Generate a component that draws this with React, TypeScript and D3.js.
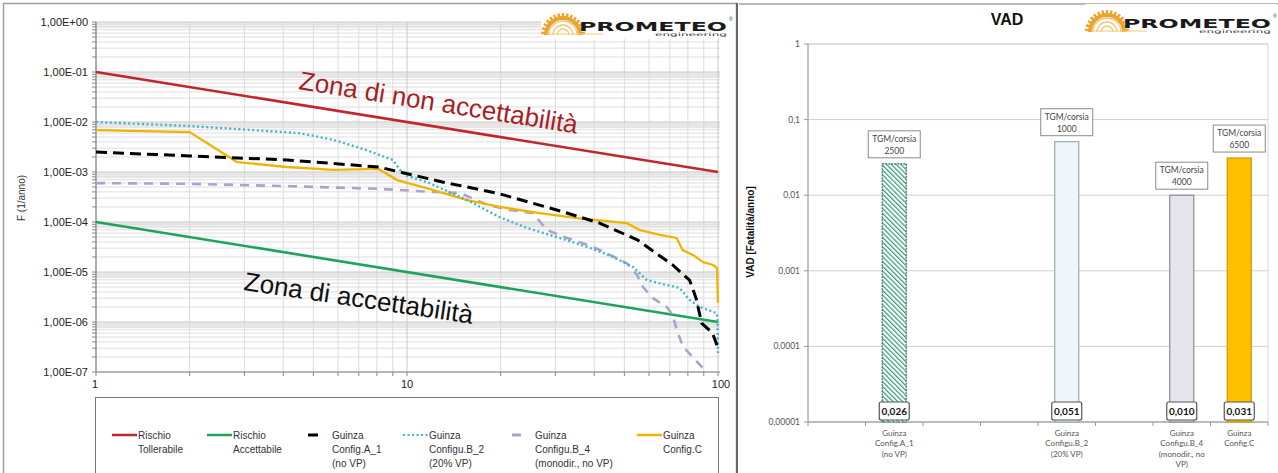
import * as d3 from "d3";

// ---- left chart: F-N curves ----
const yTicksL = [1, 1e-1, 1e-2, 1e-3, 1e-4, 1e-5, 1e-6, 1e-7];
const yTickLabelsL = ["1,00E+00", "1,00E-01", "1,00E-02", "1,00E-03", "1,00E-04", "1,00E-05", "1,00E-06", "1,00E-07"];
const xTicksL = [1, 10, 100];
const xTickLabelsL = ["1", "10", "100"];

const rischioTollerabile: [number, number][] = [[1, 0.1], [100, 0.001]];
const rischioAccettabile: [number, number][] = [[1, 1e-4], [100, 1e-6]];

const configA1: [number, number][] = [
  [1, 2.5e-3], [2, 2.1e-3], [4.1, 1.74e-3], [8.1, 1.26e-3], [9.5, 1.0e-3], [13, 6.3e-4],
  [19.4, 3.8e-4], [30.3, 1.74e-4], [41.6, 9.5e-5], [55, 4.4e-5], [71.5, 1.38e-5], [81, 6.9e-6],
  [85, 3.0e-6], [88.6, 9.5e-7], [96, 6.0e-7], [99.5, 3.3e-7],
];
const configB2: [number, number][] = [
  [1, 1e-2], [2, 8.3e-3], [4.5, 6.0e-3], [5.8, 4.4e-3], [7.4, 2.75e-3], [9, 1.74e-3], [9.5, 1.1e-3],
  [9.85, 8.7e-4], [11.8, 6.0e-4], [15.6, 2.75e-4], [19.8, 1.26e-4], [24.3, 7.6e-5], [30.3, 5.0e-5],
  [37.9, 3.2e-5], [46, 2.0e-5], [53.3, 1.26e-5], [59.1, 6.9e-6], [68.4, 5.5e-6], [75.2, 4.8e-6],
  [81.1, 2.75e-6], [87.4, 2.0e-6], [99, 1.5e-6], [99.6, 1.2e-6], [100, 2.4e-7],
];
const configB4: [number, number][] = [
  [1, 6.0e-4], [2, 5.8e-4], [4.2, 5.2e-4], [8.1, 4.6e-4], [12.1, 4.0e-4], [14.8, 3.8e-4],
  [18.1, 2.2e-4], [21.4, 1.74e-4], [25.4, 1.5e-4], [28.2, 6.9e-5], [32.7, 4.8e-5], [39.6, 3.2e-5],
  [44.9, 2.2e-5], [50.9, 1.5e-5], [54.9, 8.7e-6], [57.4, 5.0e-6], [61.8, 3.0e-6], [68.4, 2.0e-6],
  [71.5, 1.38e-6], [73.7, 6.9e-7], [77.2, 3.2e-7], [82.9, 2.0e-7], [89.4, 1.2e-7],
];
const configC: [number, number][] = [
  [1, 6.9e-3], [2, 6.3e-3], [2.84, 1.58e-3], [4.1, 1.26e-3], [5.8, 1.1e-3], [8.1, 1.15e-3],
  [9.3, 6.9e-4], [12.1, 4.4e-4], [15.6, 2.75e-4], [19.9, 2.0e-4], [26.7, 1.5e-4], [35.2, 1.2e-4],
  [50.9, 9.5e-5], [56.1, 6.9e-5], [65.1, 5.5e-5], [73.6, 4.8e-5], [77, 2.75e-5], [83, 2.2e-5],
  [89.5, 1.58e-5], [96.4, 1.38e-5], [99.3, 1.2e-5], [100, 2.4e-6],
];

// ---- right chart: VAD bars (Excel keeps empty category slots) ----
const vadCategories = [
  [], ["Guinza", "Config.A_1", "(no VP)"], [], [], ["Guinza", "Configu.B_2", "(20% VP)"], [],
  ["Guinza", "Configu.B_4", "(monodir., no", "VP)"], ["Guinza", "Config.C"],
];
const vadValues = [null, 0.026, null, null, 0.051, null, 0.010, 0.031];
const tgmCorsia = [null, 2500, null, null, 1000, null, 4000, 6500];
const yTicksR = [1, 0.1, 0.01, 0.001, 0.0001, 0.00001];
const yTickLabelsR = ["1", "0,1", "0,01", "0,001", "0,0001", "0,00001"];

const barFill = ["", "url(#hatch)", "", "", "#eef6f9", "", "#e6e4ec", "#ffc000"];
const barStroke = ["", "#3d6b5a", "", "", "#9aa", "", "#8a8a90", "#c89400"];

const W = 1278, H = 473;
const fontL = "'Liberation Sans', Arial, sans-serif";
const fontR = "Lato, 'Open Sans', sans-serif";

function Logo({ x, y }: { x: number; y: number }) {
  const cx = x + 20, cy = y + 26, r = 19;
  const ring = d3.arc()({ innerRadius: r - 4, outerRadius: r, startAngle: -Math.PI / 2, endAngle: Math.PI / 2 }) as string;
  const teeth = d3.range(-84, 90, 12);
  return (
    <g>
      <rect x={x - 2} y={y - 2} width={192} height={32} fill="#fff" />
      <path d={ring} transform={`translate(${cx},${cy})`} fill="#e8a530" />
      {teeth.map((a) => {
        const t = (a * Math.PI) / 180;
        return (
          <line key={a} x1={cx + Math.sin(t) * (r - 1)} y1={cy - Math.cos(t) * (r - 1)}
            x2={cx + Math.sin(t) * (r + 3)} y2={cy - Math.cos(t) * (r + 3)} stroke="#e8a530" strokeWidth={2.5} />
        );
      })}
      {[6, 10, 14].map((rr) => (
        <path key={rr} d={`M${cx - rr},${cy} A${rr},${rr} 0 0 1 ${cx + rr},${cy}`} fill="none" stroke="#f2c879" strokeWidth={1.3} />
      ))}
      <line x1={cx - 16} y1={cy - 1} x2={cx + 40} y2={cy - 1} stroke="#f2c879" strokeWidth={1} />
      <text x={x + 36} y={y + 22} fontFamily="'DejaVu Sans', sans-serif" fontWeight="bold" fontSize={13}
        textLength={148} lengthAdjust="spacingAndGlyphs" fill="#1a1a1a">PROMETEO</text>
      <text x={x + 112} y={y + 27} fontFamily="'DejaVu Sans', sans-serif" fontSize={4.5}
        textLength={72} lengthAdjust="spacingAndGlyphs" fill="#333">engineering</text>
      <text x={x + 186} y={y + 12} fontSize={5} fontFamily="sans-serif" fill="#333">®</text>
    </g>
  );
}

function LeftChart() {
  const xL = d3.scaleLog().domain([1, 100]).range([96, 718]);
  const yL = d3.scaleLog().domain([1e-7, 1]).range([372, 22]);
  const line = d3.line<[number, number]>().x((d) => xL(d[0])).y((d) => yL(d[1]));

  const minorY: number[] = [];
  yTicksL.slice(1).forEach((v) => d3.range(2, 10).forEach((k) => minorY.push(v * k)));
  const minorX: number[] = [];
  [1, 10].forEach((v) => d3.range(2, 10).forEach((k) => minorX.push(v * k)));

  const legend = [
    { lines: ["Rischio", "Tollerabile"], x: 112, w: 25, color: "#c0272d", dash: "", sw: 2.5 },
    { lines: ["Rischio", "Accettabile"], x: 207, w: 25, color: "#1ea35c", dash: "", sw: 2.5 },
    { lines: ["Guinza", "Config.A_1", "(no VP)"], x: 308, w: 10, color: "#000", dash: "", sw: 3 },
    { lines: ["Guinza", "Configu.B_2", "(20% VP)"], x: 403, w: 25, color: "#3fb6cc", dash: "2,2.5", sw: 2.2 },
    { lines: ["Guinza", "Configu.B_4", "(monodir., no VP)"], x: 512, w: 9, color: "#aaa4c8", dash: "", sw: 3 },
    { lines: ["Guinza", "Config.C"], x: 637, w: 25, color: "#f0b400", dash: "", sw: 2.5 },
  ];

  return (
    <g fontFamily={fontL}>
      <rect x={3.5} y={3.5} width={733} height={480} fill="#fff" stroke="#a0a0a0" strokeWidth={1.5} />
      <line x1={737} y1={3} x2={737} y2={H} stroke="#666" strokeWidth={2} />
      {/* gray bands near each decade line */}
      {yTicksL.slice(1).map((v) => (
        <rect key={"b" + v} x={96} y={yL(v * 10)} width={624} height={yL(v * 7.5) - yL(v * 10)} fill="#ececec" />
      ))}
      {minorY.map((v) => (
        <line key={"my" + v} x1={96} x2={720} y1={yL(v)} y2={yL(v)} stroke="#dedede" strokeWidth={1} />
      ))}
      {minorX.map((v) => (
        <line key={"mx" + v} x1={xL(v)} x2={xL(v)} y1={22} y2={372} stroke="#dcdcdc" strokeWidth={1} />
      ))}
      {yTicksL.map((v) => (
        <line key={"gy" + v} x1={96} x2={720} y1={yL(v)} y2={yL(v)} stroke="#c8c8c8" strokeWidth={1} />
      ))}
      {xTicksL.map((v) => (
        <line key={"gx" + v} x1={xL(v)} x2={xL(v)} y1={22} y2={372} stroke="#c8c8c8" strokeWidth={1} />
      ))}
      {/* axes */}
      <line x1={96} x2={96} y1={22} y2={372} stroke="#888" strokeWidth={1.2} />
      <line x1={96} x2={720} y1={372} y2={372} stroke="#888" strokeWidth={1.2} />
      {minorY.concat(yTicksL).map((v) => (
        <line key={"ty" + v} x1={92} x2={96} y1={yL(v)} y2={yL(v)} stroke="#888" />
      ))}
      {minorX.concat(xTicksL).map((v) => (
        <line key={"tx" + v} x1={xL(v)} x2={xL(v)} y1={372} y2={376} stroke="#888" />
      ))}
      {yTicksL.map((v, i) => (
        <text key={"ly" + v} x={88} y={yL(v) + 4} textAnchor="end" fontSize={11} fill="#222">{yTickLabelsL[i]}</text>
      ))}
      {xTicksL.map((v, i) => (
        <text key={"lx" + v} x={xL(v) + (i === 0 ? -1 : i === 2 ? 3 : 0)} y={388} textAnchor="middle" fontSize={11} fill="#222">{xTickLabelsL[i]}</text>
      ))}
      <text transform="translate(25,198) rotate(-90)" textAnchor="middle" fontSize={10} fill="#333">F (1/anno)</text>

      <Logo x={543} y={9} />

      {/* series */}
      <path d={line(rischioTollerabile)!} fill="none" stroke="#c0272d" strokeWidth={2.6} />
      <path d={line(rischioAccettabile)!} fill="none" stroke="#1ea35c" strokeWidth={2.6} />
      <path d={line(configB4)!} fill="none" stroke="#aaa4c8" strokeWidth={2.6} strokeDasharray="9,7" />
      <path d={line(configC)!} fill="none" stroke="#f0b400" strokeWidth={2.3} />
      <path d={line(configB2)!} fill="none" stroke="#3fb6cc" strokeWidth={2.4} strokeDasharray="2,2.6" />
      <path d={line(configA1)!} fill="none" stroke="#000" strokeWidth={3} strokeDasharray="11,6" />

      <text transform="translate(298,89) rotate(9.1)" fontSize={26} fill="#a81d26">Zona di non accettabilità</text>
      <text transform="translate(243,290) rotate(8.4)" fontSize={26} fill="#111">Zona di accettabilità</text>

      {/* legend */}
      <rect x={95.5} y={397.5} width={623} height={90} fill="#fff" stroke="#777" strokeWidth={1} />
      {legend.map((l) => (
        <g key={l.lines.join()}>
          <line x1={l.x} x2={l.x + l.w} y1={435} y2={435} stroke={l.color} strokeWidth={l.sw} strokeDasharray={l.dash} />
          {l.lines.map((t, j) => (
            <text key={t} x={l.x + l.w + (l.w < 15 ? 14 : 1)} y={439 + j * 14} fontSize={10} fill="#333">{t}</text>
          ))}
        </g>
      ))}
    </g>
  );
}

function RightChart() {
  const xR = d3.scaleBand<number>().domain(d3.range(vadCategories.length)).range([808, 1268]);
  const yR = d3.scaleLog().domain([1e-5, 1]).range([422, 44]);
  const barW = 24;
  const fmt = (v: number) => d3.format(".3f")(v).replace(".", ",");

  return (
    <g fontFamily={fontR}>
      <line x1={739} x2={W} y1={4} y2={4} stroke="#a0a0a0" strokeWidth={1.5} />
      <defs>
        <pattern id="hatch" width={3.4} height={3.4} patternUnits="userSpaceOnUse" patternTransform="rotate(-45)">
          <rect width={3.4} height={3.4} fill="#ffffff" />
          <line x1={0} y1={0} x2={0} y2={3.4} stroke="#2f9c70" strokeWidth={2.4} />
        </pattern>
      </defs>
      <text x={1007} y={25} textAnchor="middle" fontSize={16} fontWeight="bold" fontFamily={fontL} fill="#111">VAD</text>
      <Logo x={1087} y={6} />
      <rect x={808} y={44} width={460} height={378} fill="none" stroke="#d8d8d8" />
      {yTicksR.map((v, i) => (
        <g key={v}>
          <line x1={808} x2={1268} y1={yR(v)} y2={yR(v)} stroke="#cfcfcf" />
          <line x1={804} x2={808} y1={yR(v)} y2={yR(v)} stroke="#999" />
          <text x={800} y={yR(v) + 3} textAnchor="end" fontSize={8.5} fill="#555">{yTickLabelsR[i]}</text>
        </g>
      ))}
      <line x1={808} x2={808} y1={44} y2={422} stroke="#999" />
      <line x1={808} x2={1268} y1={422} y2={422} stroke="#999" />
      {d3.range(vadCategories.length + 1).map((i) => {
        const xx = 808 + i * xR.bandwidth();
        return <line key={i} x1={xx} x2={xx} y1={422} y2={426} stroke="#999" />;
      })}
      <text transform="translate(754,232) rotate(-90)" textAnchor="middle" fontSize={10} fontWeight="bold" fontFamily={fontL} fill="#111">VAD [Fatalità/anno]</text>

      {vadValues.map((v, i) => {
        if (v == null) return null;
        const cx = xR(i)! + xR.bandwidth() / 2;
        const top = yR(v);
        return (
          <g key={i}>
            <rect x={cx - barW / 2} y={top} width={barW} height={422 - top} fill={barFill[i]} stroke={barStroke[i]}
              strokeWidth={1.2} strokeDasharray={i === 1 ? "2,1" : ""} />
            <rect x={cx - 26} y={top - 33} width={52} height={27} fill="#fff" stroke="#8a8a8a" />
            <text x={cx} y={top - 22} textAnchor="middle" fontSize={8.5} fill="#444">TGM/corsia</text>
            <text x={cx} y={top - 10} textAnchor="middle" fontSize={8.5} fill="#444">{tgmCorsia[i]}</text>
            <rect x={cx - 15} y={402} width={30} height={18} rx={2} fill="#fff" stroke="#555" strokeWidth={1.2} />
            <text x={cx} y={415} textAnchor="middle" fontSize={10} fontWeight="bold" fill="#111">{fmt(v)}</text>
          </g>
        );
      })}
      {vadCategories.map((lines, i) =>
        lines.map((t, j) => (
          <text key={i + t} x={xR(i)! + xR.bandwidth() / 2} y={436 + j * 10.3} textAnchor="middle" fontSize={8} fill="#555">{t}</text>
        ))
      )}
    </g>
  );
}

export default function App() {
  return (
    <svg width={W} height={H} viewBox={`0 0 ${W} ${H}`} style={{ position: "absolute", left: 0, top: 0, background: "#fff" }}>
      <rect width={W} height={H} fill="#fff" />
      <LeftChart />
      <RightChart />
    </svg>
  );
}
